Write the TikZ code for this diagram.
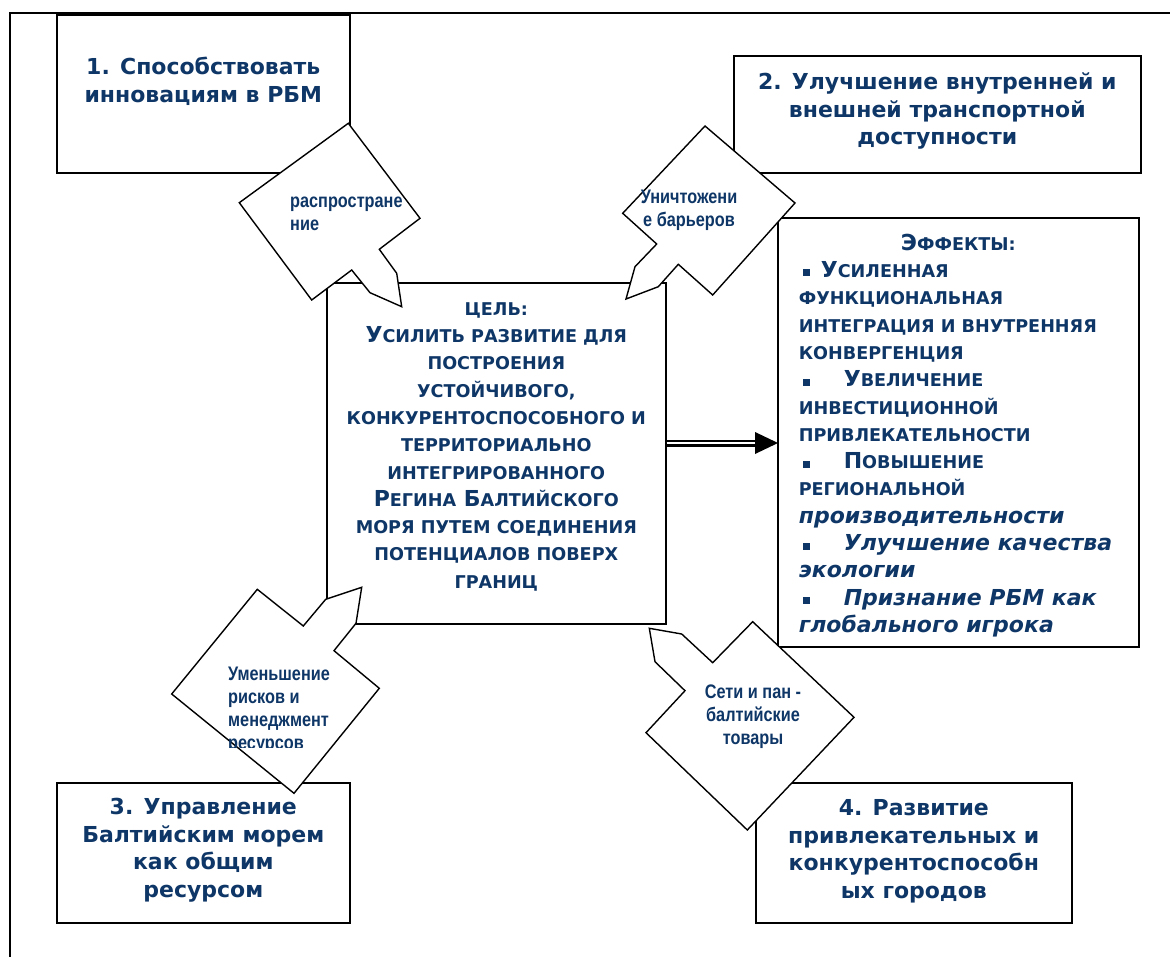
\documentclass[tikz,border=0pt]{standalone}
\usepackage{fontspec}
\setmainfont{DejaVu Sans}
\newfontfamily\calfont[FakeStretch=0.83]{Liberation Sans}
\usetikzlibrary{calc}
\definecolor{navy}{RGB}{14,54,102}
\newcommand\smf{\fontsize{17.6}{27.3}\selectfont}
\newcommand\tb[4]{\parbox[c][#2][t]{#1}{\centering\rule{0pt}{#3}#4\par}}
\newcommand\bl[1]{\makebox[#1][l]{\hspace{4pt}\rule[1pt]{7pt}{7pt}}}
\tikzset{
  box/.style={draw, line width=1.6pt, inner sep=0pt, anchor=north west, text=navy,
    font=\bfseries\fontsize{22}{27.5}\selectfont},
  bigbox/.style={box, font=\bfseries\fontsize{22}{27.3}\selectfont},
  callout/.style={draw, line width=1.4pt, fill=white, line join=miter},
  caltext/.style={inner sep=0pt, text=navy, font=\calfont\bfseries\fontsize{19.6}{23}\selectfont},
  frame/.style={line width=1.6pt},
  dbl/.style={double, double distance=2.6pt, line width=2.2pt}
}
\begin{document}
\begin{tikzpicture}[x=1pt,y=-1pt]
\useasboundingbox (0,0) rectangle (1170,957);
\draw[frame] (10,960) -- (10,13) -- (1172,13);

% goal boxes
\node[box] (b1) at (56,14) {\tb{293pt}{158pt}{60pt}{1. Способствовать\\инновациям в РБМ}};
\node[box] (b2) at (733,55) {\tb{407pt}{117pt}{34pt}{2. Улучшение внутренней и\\внешней транспортной\\доступности}};
\node[box] (b3) at (56,782) {\tb{293pt}{140pt}{32pt}{3. Управление\\Балтийским морем\\как общим\\ресурсом}};
\node[box] (b4) at (755,782) {\tb{316pt}{140pt}{33pt}{4. Развитие\\привлекательных и\\конкурентоспособн\\ых городов}};

% central goal
\node[bigbox] (goal) at (326,282) {\tb{339pt}{341pt}{32.4pt}{{\smf ЦЕЛЬ:}\\
У{\smf СИЛИТЬ РАЗВИТИЕ ДЛЯ}\\
{\smf ПОСТРОЕНИЯ}\\
{\smf УСТОЙЧИВОГО,}\\
{\smf КОНКУРЕНТОСПОСОБНОГО И}\\
{\smf ТЕРРИТОРИАЛЬНО}\\
{\smf ИНТЕГРИРОВАННОГО}\\
Р{\smf ЕГИНА} Б{\smf АЛТИЙСКОГО}\\
{\smf МОРЯ ПУТЕМ СОЕДИНЕНИЯ}\\
{\smf ПОТЕНЦИАЛОВ ПОВЕРХ}\\
{\smf ГРАНИЦ}}};

% effects
\node[bigbox] (eff) at (777,217) {\parbox[c][429pt][t]{361pt}{%
{\centering\rule{0pt}{32.4pt}Э{\smf ФФЕКТЫ:}\par}
\raggedright\leftskip=21pt
\bl{22pt}У{\smf СИЛЕННАЯ}\\
{\smf ФУНКЦИОНАЛЬНАЯ}\\
{\smf ИНТЕГРАЦИЯ И ВНУТРЕННЯЯ}\\
{\smf КОНВЕРГЕНЦИЯ}\\
\bl{45pt}У{\smf ВЕЛИЧЕНИЕ}\\
{\smf ИНВЕСТИЦИОННОЙ}\\
{\smf ПРИВЛЕКАТЕЛЬНОСТИ}\\
\bl{45pt}П{\smf ОВЫШЕНИЕ}\\
{\smf РЕГИОНАЛЬНОЙ}\\
{\itshape производительности}\\
\bl{45pt}{\itshape Улучшение качества}\\
{\itshape экологии}\\
\bl{45pt}{\itshape Признание РБМ как}\\
{\itshape глобального игрока}\par}};

% arrow goal -> effects
\coordinate (ay) at (0,443);
\draw[dbl] (goal.east |- ay) -- ($(eff.west |- ay)+(-20,0)$);
\fill ($(eff.west |- ay)+(1,0)$) -- ++(-23,-11) -- ++(0,22) -- cycle;

% callouts
\draw[callout] (348.3,123.3) -- (420,218.3) -- (379.3,249.3) -- (396.7,273.3) -- (401.7,306.7) -- (370,292.7) -- (351.7,270) -- (311.7,300) -- (239.3,202.7) -- cycle;
\draw[callout] (705,126) -- (795,203) -- (712.7,295) -- (678.3,264.3) -- (658.3,286.7) -- (626,299) -- (635,266.7) -- (656.7,244) -- (622.7,213.3) -- cycle;
\draw[callout] (257.3,589.3) -- (303.3,626) -- (325.7,599.3) -- (361.7,587.3) -- (356,623.3) -- (334,650.7) -- (379.3,688.3) -- (294,793.3) -- (171.7,694) -- cycle;
\draw[callout] (752.7,621.7) -- (854,717.3) -- (747.3,830) -- (646,732.7) -- (685,690.7) -- (655,661.7) -- (649.3,628.3) -- (681.7,634) -- (712.7,662.7) -- cycle;

\node[caltext, anchor=north west, align=left] (t1) at (290,191) {\rule{0pt}{16pt}распростране\\ние};
\node[caltext, anchor=north, align=center] (t2) at (689,187) {\rule{0pt}{16pt}Уничтожени\\е барьеров};
\begin{scope}
\clip (0,0) rectangle (1170,747);
\node[caltext, anchor=north west, align=left] (t3) at (228,664) {\rule{0pt}{16pt}Уменьшение\\рисков и\\менеджмент\\ресурсов};
\end{scope}
\node[caltext, anchor=north, align=center] (t4) at (753,682) {\rule{0pt}{16pt}Сети и пан -\\балтийские\\товары};
\end{tikzpicture}
\end{document}
